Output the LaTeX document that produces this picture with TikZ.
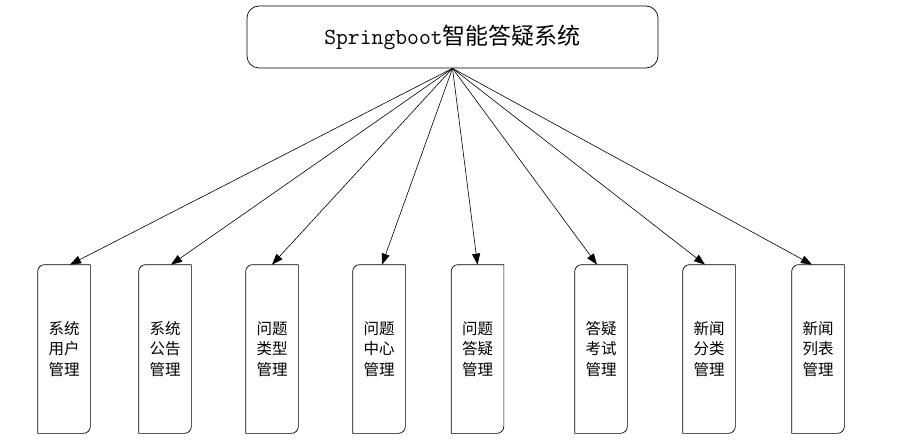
\documentclass[tikz,border=0pt]{standalone}
\usepackage{fontspec}
\setmainfont{Noto Sans CJK SC}
\setmonofont{Latin Modern Mono}
\usetikzlibrary{arrows.meta,positioning}

\begin{document}
\begin{tikzpicture}[
    x=1pt, y=-1pt,
    line width=0.7pt,
    title/.style={draw, rounded corners=12pt, minimum width=411pt, minimum height=62pt, inner sep=0pt},
    module/.style={minimum width=52pt, minimum height=168pt, inner sep=0pt, align=center,
        font=\fontsize{15.5}{20.5}\selectfont},
    arrow/.style={-{Triangle[length=11pt,width=8pt]}, line width=0.6pt}
]
\useasboundingbox (0,0) rectangle (901,441);

\node[title] (sys) at (452.5,37) {{\fontsize{23}{26}\selectfont\ttfamily Springboot}{\fontsize{23}{26}\selectfont 智能答疑系统}};

% module boxes, rounded only at top left and bottom right
\foreach \name/\xpos/\txt/\dx in {
    m1/64/系统\\用户\\管理/6,
    m2/165/系统\\公告\\管理/6,
    m3/272/问题\\类型\\管理/0,
    m4/379/问题\\中心\\管理/3,
    m5/477.5/问题\\答疑\\管理/0,
    m6/601/答疑\\考试\\管理/-4,
    m7/709/新闻\\分类\\管理/-4,
    m8/818/新闻\\列表\\管理/-6}
{
    \node[module] (\name) at (\xpos,349) {\txt};
    \draw (\name.south west) [rounded corners=7pt] -- (\name.north west) [sharp corners] -- (\name.north east)
        [rounded corners=7pt] -- (\name.south east) [sharp corners] -- cycle;
    \draw[arrow] (sys.south) -- ([xshift=\dx pt]\name.north);
}
\end{tikzpicture}
\end{document}
